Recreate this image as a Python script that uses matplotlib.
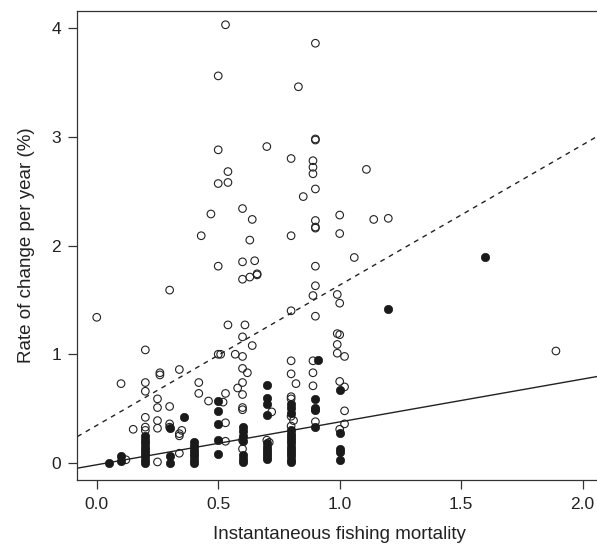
import matplotlib
matplotlib.use('Agg')
import matplotlib.pyplot as plt
import numpy as np

plt.rcParams['font.family'] = ['Liberation Sans', 'DejaVu Sans']

# open circles (x = fishing mortality, y = rate of change %)
open_x = [0.53, 0.90, 0.50, 0.83, 0.90, 0.90, 0.50, 0.70, 0.80, 0.89, 0.89, 0.89,
          0.54, 0.50, 0.54, 0.90, 0.85, 1.11, 1.00, 1.14, 1.20, 0.80, 1.00, 0.90,
          0.90, 0.90, 0.60, 0.47, 0.64, 0.63, 0.43, 0.50, 0.60, 0.65, 0.60, 0.63,
          0.66, 0.66, 0.90, 0.30, 0.90, 0.89, 0.99, 1.00, 0.00, 0.90, 0.80, 0.54,
          0.61, 0.60, 0.64, 0.20, 0.50, 0.51, 0.57, 0.60, 0.80, 0.80, 0.89, 0.99,
          1.00, 0.99, 0.99, 1.02, 0.89, 0.34, 0.26, 0.26, 0.60, 0.62, 1.06, 1.89,
          0.10, 0.20, 0.20, 0.25, 0.25, 0.30, 0.42, 0.42, 0.46, 0.53, 0.58, 0.60,
          0.60, 0.60, 0.60, 0.25, 0.25, 0.30, 0.30, 0.15, 0.20, 0.20, 0.20, 0.34,
          0.34, 0.35, 0.34, 0.25, 0.12, 0.53, 0.53, 0.52, 0.60, 0.60, 0.72, 0.82,
          0.80, 0.80, 0.80, 0.81, 0.80, 0.89, 0.90, 0.90, 0.70, 0.71, 1.00, 1.02,
          1.02, 1.02, 1.00]
open_y = [4.03, 3.86, 3.56, 3.46, 2.98, 2.97, 2.88, 2.91, 2.80, 2.78, 2.72, 2.66,
          2.68, 2.57, 2.58, 2.52, 2.45, 2.70, 2.28, 2.24, 2.25, 2.09, 2.11, 2.23,
          2.16, 2.17, 2.34, 2.29, 2.24, 2.05, 2.09, 1.81, 1.85, 1.86, 1.69, 1.71,
          1.73, 1.74, 1.81, 1.59, 1.63, 1.54, 1.55, 1.47, 1.34, 1.35, 1.40, 1.27,
          1.27, 1.16, 1.08, 1.04, 1.00, 1.00, 1.00, 0.98, 0.94, 0.82, 0.94, 1.19,
          1.18, 1.09, 1.01, 0.98, 0.83, 0.86, 0.83, 0.81, 0.87, 0.83, 1.89, 1.03,
          0.73, 0.74, 0.66, 0.59, 0.51, 0.52, 0.74, 0.64, 0.57, 0.64, 0.69, 0.74,
          0.63, 0.51, 0.49, 0.39, 0.32, 0.36, 0.33, 0.31, 0.42, 0.33, 0.30, 0.27,
          0.25, 0.30, 0.09, 0.01, 0.03, 0.20, 0.37, 0.56, 0.21, 0.13, 0.47, 0.73,
          0.61, 0.59, 0.43, 0.39, 0.34, 0.71, 0.49, 0.38, 0.21, 0.19, 0.75, 0.70,
          0.48, 0.36, 0.31]

# filled circles
filled_x = [0.05, 0.10, 0.10,
            0.20, 0.20, 0.20, 0.20, 0.20, 0.20, 0.20, 0.20, 0.20,
            0.30, 0.30, 0.30, 0.36,
            0.40, 0.40, 0.40, 0.40, 0.40, 0.40, 0.40,
            0.50, 0.50, 0.50, 0.50, 0.50,
            0.60, 0.60, 0.60, 0.60, 0.60, 0.60, 0.60,
            0.70, 0.70, 0.70, 0.70, 0.70, 0.70, 0.70, 0.70, 0.70, 0.70,
            0.80, 0.80, 0.80, 0.80, 0.80, 0.80, 0.80, 0.80, 0.80, 0.80,
            0.80, 0.80, 0.80, 0.80,
            0.91, 0.90, 0.90, 0.90, 0.90,
            1.00, 1.00, 1.00, 1.00, 1.00,
            1.20, 1.60]
filled_y = [0.00, 0.02, 0.06,
            0.00, 0.03, 0.06, 0.09, 0.12, 0.15, 0.18, 0.21, 0.25,
            0.00, 0.06, 0.32, 0.42,
            0.00, 0.03, 0.06, 0.09, 0.12, 0.16, 0.19,
            0.57, 0.48, 0.36, 0.21, 0.08,
            0.01, 0.04, 0.07, 0.20, 0.25, 0.29, 0.33,
            0.72, 0.60, 0.54, 0.44, 0.04, 0.06, 0.09, 0.12, 0.15, 0.18,
            0.54, 0.51, 0.46, 0.30, 0.27, 0.24, 0.21, 0.18, 0.15, 0.12,
            0.09, 0.06, 0.03, 0.01,
            0.95, 0.59, 0.51, 0.49, 0.33,
            0.67, 0.28, 0.13, 0.10, 0.03,
            1.42, 1.89]

# fitted lines (intercept, slope)
dashed_fit = (0.346, 1.29)
solid_fit = (-0.016, 0.394)

fig = plt.figure(figsize=(5.97, 5.45), dpi=100)
ax = fig.add_axes([0.1295, 0.1185, 0.879, 0.862])

ax.scatter(open_x, open_y, s=30, facecolors='none', edgecolors='#222222',
           linewidths=0.8, zorder=3)
ax.scatter(filled_x, filled_y, s=36, c='#1a1a1a', edgecolors='#1a1a1a',
           linewidths=0.5, zorder=3)

xs = np.array([-0.08, 2.08])
ax.plot(xs, dashed_fit[0] + dashed_fit[1] * xs, color='#222222', lw=1.0,
        linestyle=(0, (3.5, 3.5)), zorder=2)
ax.plot(xs, solid_fit[0] + solid_fit[1] * xs, color='#222222', lw=1.0, zorder=2)

ax.set_xlim(-0.08, 2.08)
ax.set_ylim(-0.16, 4.16)
ax.set_xticks([0.0, 0.5, 1.0, 1.5, 2.0])
ax.set_xticklabels(['0.0', '0.5', '1.0', '1.5', '2.0'])
ax.set_yticks([0, 1, 2, 3, 4])

for s in ax.spines.values():
    s.set_linewidth(0.9)
    s.set_color('#333333')
ax.tick_params(direction='out', length=6.7, width=0.9, color='#333333',
               labelsize=12.5, labelcolor='#222222', pad=5)

ax.set_xlabel('Instantaneous fishing mortality', fontsize=13.5, color='#222222',
              labelpad=10)
ax.set_ylabel('Rate of change per year (%)', fontsize=13.5, color='#222222',
              labelpad=12)

fig.savefig('out.png', dpi=100)
